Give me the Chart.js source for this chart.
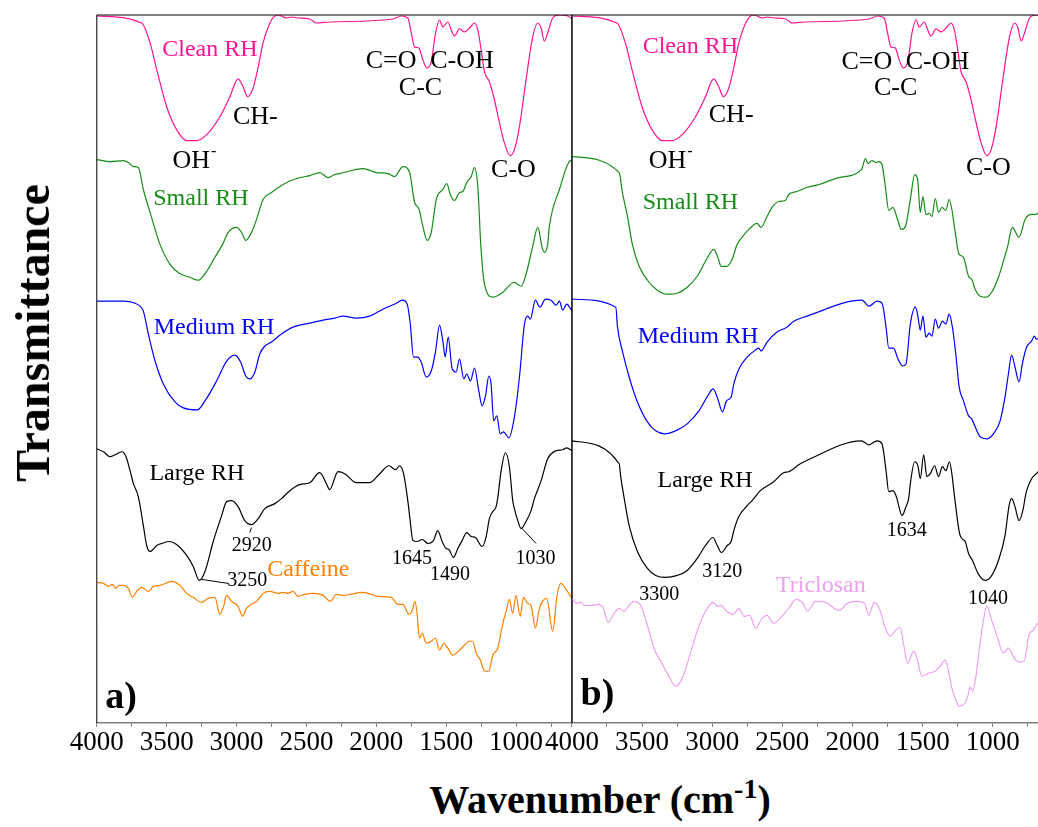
<!DOCTYPE html>
<html>
<head>
<meta charset="utf-8">
<script src="https://cdn.jsdelivr.net/npm/chart.js@4.4.0/dist/chart.umd.min.js"></script>
<style>
  body { margin: 0; background: #fff; }
  #wrap { position: relative; width: 1038px; height: 827px; overflow: hidden; background: #fff; }
  .panel { position: absolute; top: 0; height: 760px; }
  #pa { left: 0; width: 600px; }
  #pb { left: 540px; width: 505px; }
  #ytitle { position: absolute; left: 33px; top: 333px; transform: translate(-50%, -50%) rotate(-90deg);
            font: bold 48px "Liberation Serif", serif; white-space: nowrap; line-height: 1; }
  #xtitle { position: absolute; left: 600px; top: 800px; transform: translate(-50%, -50%);
            font: bold 40px "Liberation Serif", serif; white-space: nowrap; line-height: 1; }
  #xtitle sup { font-size: 28px; vertical-align: 0; position: relative; top: -15px; }
</style>
</head>
<body>
<div id="wrap">
  <div class="panel" id="pa"><canvas id="chartA"></canvas></div>
  <div class="panel" id="pb"><canvas id="chartB"></canvas></div>
  <div id="ytitle">Transmittance</div>
  <div id="xtitle">Wavenumber (cm<sup>-1</sup>)</div>
</div>
<script>
// FTIR spectra, x = wavenumber (cm-1), y = transmittance (a.u., curves offset)

// clean RH (same spectrum in both panels)
const cleanWn = [4000, 3679, 3619, 3571, 3500, 3429, 3357, 3286, 3214, 3119, 3048, 2989, 2953, 2921, 2881, 2845, 2810, 2750, 2703, 2643, 2607, 2560, 2476, 2429, 2334, 1881, 1821, 1774, 1750, 1726, 1696, 1667, 1639, 1607, 1576, 1548, 1524, 1489, 1464, 1441, 1405, 1369, 1333, 1298, 1274, 1250, 1226, 1191, 1155, 1119, 1084, 1043, 1012, 976, 929, 881, 845, 821, 798, 774, 738, 690, 631, 600];
const cleanT = [70.9, 70.2, 68.2, 65.5, 61.8, 59.5, 58.4, 58.4, 59.0, 60.8, 62.8, 64.6, 63.8, 62.8, 63.7, 65.8, 68.2, 70.5, 71.0, 70.7, 70.8, 70.7, 70.6, 70.2, 70.3, 70.6, 70.9, 70.7, 69.2, 67.8, 67.7, 66.5, 65.7, 66.3, 69.2, 70.5, 69.8, 70.3, 69.5, 68.9, 69.6, 69.3, 69.7, 70.2, 69.5, 67.5, 65.3, 64.3, 62.5, 60.2, 58.2, 56.9, 57.5, 59.8, 64.5, 68.8, 70.2, 69.7, 68.4, 69.2, 70.7, 71.0, 70.9, 70.6];

// panel a)
const smallAWn = [4000, 3905, 3810, 3774, 3738, 3703, 3667, 3619, 3548, 3476, 3410, 3334, 3274, 3214, 3155, 3100, 3060, 3000, 2964, 2934, 2893, 2857, 2810, 2750, 2667, 2571, 2476, 2405, 2346, 2298, 2262, 2095, 2000, 1917, 1869, 1810, 1762, 1726, 1696, 1667, 1636, 1607, 1571, 1524, 1496, 1471, 1441, 1405, 1381, 1353, 1321, 1298, 1274, 1252, 1226, 1167, 1095, 1012, 964, 929, 881, 845, 814, 798, 774, 762, 690, 619, 600];
const smallAT = [56.5, 56.3, 56.4, 56.2, 55.8, 55.7, 53.5, 51.2, 48.0, 46.0, 45.1, 44.7, 44.4, 45.3, 46.7, 48.0, 49.2, 49.7, 49.2, 48.4, 49.2, 50.5, 52.5, 53.2, 54.0, 54.6, 54.9, 55.2, 54.7, 55.0, 55.1, 55.6, 55.2, 55.1, 54.8, 55.8, 55.2, 52.2, 51.6, 49.8, 48.4, 49.2, 52.5, 53.5, 54.1, 53.0, 52.4, 53.2, 53.3, 54.2, 54.8, 55.7, 53.8, 47.8, 44.0, 42.7, 43.2, 44.2, 43.8, 45.0, 47.8, 49.7, 47.7, 47.2, 48.0, 49.8, 53.5, 56.3, 56.4];

const mediumAWn = [4000, 3905, 3810, 3726, 3691, 3667, 3631, 3583, 3524, 3441, 3381, 3281, 3226, 3143, 3071, 3012, 2971, 2934, 2905, 2869, 2834, 2798, 2750, 2679, 2596, 2476, 2381, 2298, 2238, 2143, 2048, 1953, 1857, 1814, 1779, 1757, 1734, 1703, 1679, 1643, 1607, 1576, 1548, 1524, 1507, 1486, 1457, 1429, 1405, 1374, 1353, 1326, 1298, 1267, 1243, 1219, 1195, 1179, 1160, 1138, 1114, 1090, 1052, 1012, 976, 940, 917, 898, 862, 829, 790, 750, 714, 690, 667, 638, 600];
const mediumAT = [42.3, 42.3, 42.3, 42.1, 41.8, 41.3, 39.0, 36.3, 34.0, 32.2, 31.6, 31.4, 32.3, 34.3, 36.3, 36.9, 36.2, 34.8, 34.5, 35.2, 37.0, 37.8, 38.2, 39.0, 39.7, 40.1, 40.4, 40.6, 40.8, 40.6, 40.8, 41.5, 42.1, 42.4, 42.0, 40.0, 36.7, 36.7, 36.2, 34.7, 35.3, 37.3, 39.9, 38.3, 36.7, 38.7, 35.5, 35.2, 36.5, 34.5, 35.0, 34.3, 35.6, 33.3, 31.8, 32.8, 34.8, 34.0, 30.3, 30.8, 29.0, 29.2, 28.6, 30.7, 34.7, 40.0, 40.8, 40.5, 42.4, 41.7, 42.5, 42.4, 41.9, 42.3, 41.4, 42.0, 41.3];

const largeAWn = [4000, 3952, 3905, 3869, 3821, 3791, 3762, 3738, 3703, 3667, 3643, 3619, 3571, 3536, 3481, 3429, 3357, 3310, 3267, 3226, 3167, 3107, 3071, 3036, 2989, 2941, 2893, 2845, 2798, 2726, 2679, 2619, 2548, 2476, 2405, 2357, 2334, 2274, 2226, 2143, 2048, 1976, 1910, 1862, 1834, 1805, 1774, 1762, 1738, 1710, 1671, 1631, 1591, 1560, 1529, 1500, 1481, 1448, 1417, 1386, 1353, 1321, 1291, 1243, 1214, 1191, 1167, 1143, 1131, 1107, 1076, 1048, 1024, 1012, 988, 964, 929, 893, 869, 821, 774, 714, 667, 638, 600];
const largeAT = [27.5, 27.2, 26.7, 26.9, 27.2, 26.7, 25.3, 24.0, 22.7, 19.8, 17.8, 17.2, 17.8, 18.0, 18.2, 17.9, 16.8, 15.7, 14.3, 15.2, 18.2, 20.8, 22.2, 22.3, 21.7, 20.3, 19.9, 20.5, 21.5, 22.0, 22.5, 23.3, 23.9, 24.1, 25.1, 24.0, 23.4, 25.2, 25.0, 24.1, 24.1, 25.0, 25.8, 25.4, 25.8, 25.0, 22.2, 20.8, 18.3, 18.2, 18.4, 18.0, 18.3, 19.3, 18.2, 17.5, 17.4, 16.6, 17.5, 18.3, 19.1, 18.7, 18.6, 17.7, 18.7, 20.5, 21.2, 21.7, 22.6, 25.3, 27.1, 25.7, 22.3, 21.5, 20.3, 19.5, 20.2, 21.3, 22.5, 24.3, 26.5, 27.3, 27.4, 27.6, 27.3];

const caffeineWn = [4000, 3952, 3917, 3886, 3869, 3838, 3810, 3774, 3745, 3714, 3679, 3631, 3595, 3548, 3464, 3405, 3357, 3310, 3250, 3203, 3155, 3119, 3091, 3071, 3036, 2989, 2957, 2929, 2893, 2857, 2810, 2762, 2703, 2667, 2631, 2596, 2560, 2512, 2453, 2381, 2329, 2286, 2238, 2191, 2095, 2036, 1988, 1893, 1845, 1810, 1767, 1743, 1724, 1710, 1691, 1671, 1643, 1607, 1576, 1548, 1517, 1488, 1453, 1405, 1369, 1338, 1310, 1286, 1255, 1226, 1195, 1167, 1131, 1095, 1071, 1048, 1024, 1000, 971, 948, 917, 893, 862, 833, 781, 738, 707, 679, 638, 600];
const caffeineT = [14.1, 14.0, 13.7, 13.9, 13.5, 13.8, 13.8, 13.5, 12.6, 13.2, 13.6, 13.2, 13.7, 13.8, 14.2, 13.8, 13.0, 12.6, 12.1, 12.5, 12.6, 10.9, 11.8, 12.8, 12.2, 11.7, 10.7, 11.5, 11.9, 12.2, 13.0, 13.2, 13.0, 13.1, 13.0, 13.2, 12.7, 12.9, 13.0, 12.8, 12.2, 12.9, 12.8, 12.9, 13.1, 12.9, 12.7, 12.6, 11.9, 11.9, 10.9, 11.3, 12.2, 11.2, 8.5, 9.0, 8.0, 8.2, 8.5, 7.3, 8.0, 7.5, 6.8, 7.3, 7.8, 8.2, 8.2, 7.0, 6.3, 5.2, 5.2, 6.8, 7.5, 10.0, 11.2, 12.4, 11.0, 12.8, 10.7, 12.6, 12.0, 11.8, 9.5, 11.5, 12.5, 9.2, 12.8, 14.0, 13.3, 12.5];

// panel b)
const smallBWn = [4000, 3663, 3640, 3604, 3569, 3521, 3450, 3391, 3320, 3249, 3178, 3107, 3048, 2988, 2960, 2936, 2893, 2858, 2822, 2799, 2739, 2680, 2652, 2609, 2574, 2526, 2479, 2455, 2396, 2325, 2239, 2097, 1936, 1908, 1889, 1861, 1832, 1813, 1790, 1766, 1742, 1712, 1683, 1652, 1623, 1588, 1557, 1536, 1517, 1498, 1477, 1453, 1434, 1410, 1387, 1363, 1335, 1311, 1292, 1268, 1250, 1240, 1209, 1173, 1150, 1126, 1090, 1048, 1008, 960, 925, 894, 861, 813, 770, 723, 695, 670];
const smallBT = [56.8, 55.2, 53.2, 50.8, 48.0, 45.8, 44.2, 43.4, 43.0, 43.1, 43.7, 44.8, 46.3, 47.5, 46.7, 45.8, 45.8, 46.5, 48.0, 48.5, 49.5, 50.1, 49.7, 50.8, 51.7, 52.3, 52.4, 53.0, 53.3, 53.7, 54.0, 54.7, 55.5, 56.6, 56.1, 56.4, 56.2, 56.3, 56.0, 53.8, 51.4, 51.7, 50.7, 49.5, 49.8, 52.5, 55.0, 54.5, 51.2, 52.8, 51.0, 51.1, 50.8, 52.6, 51.2, 51.7, 51.4, 52.5, 51.5, 49.2, 47.5, 47.0, 46.7, 44.8, 44.5, 43.5, 42.8, 42.7, 43.2, 44.7, 46.3, 47.8, 49.7, 48.7, 50.5, 51.0, 51.0, 51.2];

const mediumBWn = [4000, 3687, 3675, 3640, 3592, 3533, 3462, 3403, 3339, 3261, 3178, 3095, 3036, 2993, 2960, 2927, 2898, 2865, 2846, 2810, 2751, 2692, 2668, 2652, 2609, 2538, 2467, 2419, 2325, 1932, 1884, 1825, 1790, 1761, 1742, 1707, 1676, 1643, 1619, 1588, 1552, 1534, 1517, 1498, 1477, 1453, 1434, 1410, 1387, 1359, 1335, 1311, 1288, 1264, 1240, 1209, 1173, 1150, 1126, 1090, 1043, 996, 948, 913, 889, 866, 842, 813, 790, 759, 724, 704, 690, 670];
const mediumBT = [42.5, 41.7, 39.7, 37.3, 34.7, 32.2, 30.2, 29.3, 29.0, 29.3, 30.0, 31.3, 32.7, 33.5, 32.5, 31.2, 32.3, 32.7, 34.0, 35.5, 36.7, 37.4, 37.6, 37.3, 38.2, 39.2, 39.7, 40.3, 40.8, 42.4, 41.8, 42.3, 42.1, 39.7, 37.6, 37.6, 36.5, 35.8, 36.0, 40.0, 41.7, 40.8, 39.4, 40.8, 38.7, 39.1, 38.8, 40.5, 39.6, 40.3, 40.0, 41.0, 39.7, 37.0, 33.7, 32.3, 30.8, 30.5, 29.7, 28.7, 28.5, 29.0, 30.3, 32.7, 35.0, 36.9, 35.7, 34.2, 36.0, 37.7, 38.3, 38.8, 38.5, 38.6];

const largeBWn = [4000, 3663, 3652, 3628, 3592, 3533, 3462, 3403, 3332, 3249, 3178, 3107, 3048, 2995, 2964, 2934, 2893, 2865, 2846, 2810, 2751, 2716, 2657, 2562, 2491, 2455, 2372, 2330, 1936, 1884, 1825, 1790, 1761, 1742, 1712, 1683, 1671, 1647, 1619, 1600, 1588, 1557, 1534, 1517, 1493, 1470, 1446, 1415, 1387, 1359, 1335, 1309, 1292, 1273, 1233, 1197, 1173, 1145, 1102, 1055, 1012, 960, 913, 884, 866, 842, 813, 783, 771, 759, 724, 690, 670];
const largeBT = [28.3, 26.0, 24.7, 22.6, 19.8, 17.2, 15.5, 14.8, 14.6, 14.8, 15.3, 16.5, 17.8, 18.6, 17.8, 17.1, 17.8, 18.2, 19.3, 20.7, 21.8, 22.3, 23.3, 24.2, 25.1, 25.2, 26.0, 26.3, 28.3, 27.9, 28.3, 28.0, 25.3, 23.2, 23.3, 22.5, 21.8, 20.8, 21.7, 22.5, 24.0, 26.2, 25.8, 24.5, 26.9, 24.7, 25.0, 25.8, 24.7, 25.7, 25.3, 26.2, 25.0, 22.7, 18.8, 18.2, 17.0, 16.3, 14.9, 14.3, 14.7, 16.3, 18.8, 21.8, 22.5, 21.7, 20.3, 21.5, 22.5, 23.3, 24.5, 25.0, 25.3];

const triclosanWn = [4000, 3972, 3936, 3912, 3853, 3817, 3782, 3741, 3699, 3663, 3628, 3592, 3557, 3510, 3462, 3415, 3367, 3320, 3261, 3213, 3166, 3107, 3048, 2993, 2964, 2936, 2898, 2851, 2810, 2775, 2732, 2692, 2645, 2609, 2562, 2503, 2455, 2401, 2348, 2323, 2263, 2192, 2097, 2026, 1967, 1913, 1884, 1865, 1842, 1801, 1771, 1730, 1694, 1659, 1635, 1607, 1564, 1541, 1505, 1458, 1410, 1375, 1339, 1321, 1292, 1268, 1245, 1209, 1178, 1161, 1143, 1122, 1102, 1079, 1043, 1008, 965, 925, 889, 847, 818, 776, 743, 712, 690, 670];
const triclosanT = [12.5, 12.0, 12.1, 11.8, 11.8, 11.9, 11.7, 10.1, 11.0, 11.5, 11.2, 11.8, 12.2, 11.8, 9.8, 7.5, 6.2, 5.0, 3.7, 4.5, 6.5, 9.2, 11.2, 12.1, 11.7, 11.8, 11.2, 10.9, 11.5, 10.7, 10.8, 9.5, 10.5, 10.8, 10.0, 10.7, 11.5, 12.4, 11.9, 11.2, 12.2, 12.1, 11.3, 12.1, 12.2, 12.0, 10.8, 11.5, 12.1, 11.2, 9.7, 8.7, 9.3, 9.6, 7.8, 6.0, 7.2, 6.5, 4.7, 5.0, 5.2, 5.7, 6.3, 5.5, 3.5, 2.5, 1.7, 1.8, 2.7, 3.6, 3.2, 4.5, 6.8, 9.2, 11.7, 10.3, 8.5, 7.0, 7.5, 6.5, 6.1, 6.2, 8.8, 9.3, 9.8, 10.2];

// axis ticks (labels only on the 500s)
const tickValues = [4000, 3750, 3500, 3250, 3000, 2750, 2500, 2250, 2000, 1750, 1500, 1250, 1000, 750];
const xMinA = 600;
const xMinB = 678;

const PINK = '#ff1493', GREEN = '#168c16', BLUE = '#0000ff', BLACK = '#000000';
const ORANGE = '#ff8000', VIOLET = '#f0a0f2';
const SERIF = '"Liberation Serif", "Times New Roman", serif';

// text on the plot, placed in data coordinates
const notesA = [
  { text: 'Clean RH', wn: 3191, t: 67.5, color: PINK, size: 24 },
  { text: 'CH-', wn: 2866, t: 60.8, size: 26 },
  { text: 'OH', sup: '-', wn: 3305, t: 56.3, size: 26 },
  { text: 'Small RH', wn: 3255, t: 52.6, color: GREEN, size: 24 },
  { text: 'C=O', wn: 1894, t: 66.4, size: 26 },
  { text: 'C-OH', wn: 1387, t: 66.4, size: 26 },
  { text: 'C-C', wn: 1684, t: 63.7, size: 26 },
  { text: 'C-O', wn: 1019, t: 55.4, size: 26 },
  { text: 'Medium RH', wn: 3161, t: 39.6, color: BLUE, size: 24 },
  { text: 'Large RH', wn: 3284, t: 25.0, size: 24 },
  { text: '2920', wn: 2891, t: 17.8, size: 20 },
  { text: '3250', wn: 2923, t: 14.3, size: 20 },
  { text: 'Caffeine', wn: 2486, t: 15.4, color: ORANGE, size: 24 },
  { text: '1645', wn: 1744, t: 16.5, size: 20 },
  { text: '1490', wn: 1473, t: 14.9, size: 20 },
  { text: '1030', wn: 862, t: 16.5, size: 20 },
  { text: 'a)', wn: 3940, t: 2.5, size: 38, bold: true, align: 'left' }
];
const leadersA = [
  { from: [2893, 19.6], to: [2905, 19.1] },
  { from: [3250, 14.4], to: [3060, 14.0] },
  { from: [964, 19.6], to: [857, 18.0] }
];
const notesB = [
  { text: 'Clean RH', wn: 3156, t: 67.8, color: PINK, size: 24 },
  { text: 'CH-', wn: 2865, t: 61.0, size: 26 },
  { text: 'OH', sup: '-', wn: 3299, t: 56.3, size: 26 },
  { text: 'Small RH', wn: 3156, t: 52.2, color: GREEN, size: 24 },
  { text: 'C=O', wn: 1898, t: 66.3, size: 26 },
  { text: 'C-OH', wn: 1394, t: 66.3, size: 26 },
  { text: 'C-C', wn: 1693, t: 63.7, size: 26 },
  { text: 'C-O', wn: 1032, t: 55.6, size: 26 },
  { text: 'Medium RH', wn: 3101, t: 38.7, color: BLUE, size: 24 },
  { text: 'Large RH', wn: 3051, t: 24.3, size: 24 },
  { text: '3300', wn: 3377, t: 12.9, size: 20 },
  { text: '3120', wn: 2929, t: 15.2, size: 20 },
  { text: 'Triclosan', wn: 2226, t: 13.8, color: VIOLET, size: 24 },
  { text: '1634', wn: 1614, t: 19.3, size: 20 },
  { text: '1040', wn: 1035, t: 12.5, size: 20 },
  { text: 'b)', wn: 3938, t: 2.8, size: 38, bold: true, align: 'left' }
];

function spectrum(label, wn, t, color) {
  return {
    label: label,
    data: wn.map((w, i) => ({ x: w, y: t[i] })),
    borderColor: color,
    borderWidth: 1.2,
    pointRadius: 0,
    fill: false,
    cubicInterpolationMode: 'monotone'
  };
}

// frame lines + labels drawn through the chart scales
const notesPlugin = {
  id: 'notes',
  afterDatasetsDraw(chart, args, opts) {
    const { ctx, chartArea: a } = chart;
    const x = chart.scales.x, y = chart.scales.y;
    ctx.save();
    ctx.strokeStyle = '#000';
    ctx.lineWidth = 1;
    ctx.beginPath();
    ctx.moveTo(a.left, a.bottom);
    ctx.lineTo(a.left, a.top);
    ctx.lineTo(a.right, a.top);
    if (opts.rightEdge) ctx.lineTo(a.right, a.bottom);
    ctx.stroke();

    (opts.leaders || []).forEach(l => {
      ctx.beginPath();
      ctx.moveTo(x.getPixelForValue(l.from[0]), y.getPixelForValue(l.from[1]));
      ctx.lineTo(x.getPixelForValue(l.to[0]), y.getPixelForValue(l.to[1]));
      ctx.stroke();
    });

    ctx.textBaseline = 'middle';
    (opts.labels || []).forEach(n => {
      const px = x.getPixelForValue(n.wn);
      const py = y.getPixelForValue(n.t);
      ctx.fillStyle = n.color || '#000';
      ctx.font = (n.bold ? 'bold ' : '') + n.size + 'px ' + SERIF;
      const w1 = ctx.measureText(n.text).width;
      let w2 = 0;
      if (n.sup) {
        ctx.font = Math.round(n.size * 0.6) + 'px ' + SERIF;
        w2 = ctx.measureText(n.sup).width;
        ctx.font = (n.bold ? 'bold ' : '') + n.size + 'px ' + SERIF;
      }
      const left = n.align === 'left' ? px : px - (w1 + w2) / 2;
      ctx.textAlign = 'left';
      ctx.fillText(n.text, left, py);
      if (n.sup) {
        ctx.font = Math.round(n.size * 0.6) + 'px ' + SERIF;
        ctx.fillText(n.sup, left + w1 + 1, py - n.size * 0.38);
      }
    });
    ctx.restore();
  }
};

function xAxis(min) {
  return {
    type: 'linear',
    reverse: true,
    min: min,
    max: 4000,
    afterBuildTicks: s => { s.ticks = tickValues.map(v => ({ value: v })); },
    ticks: {
      autoSkip: false,
      maxRotation: 0,
      padding: 2,
      color: '#000',
      font: { family: SERIF, size: 27, lineHeight: 1 },
      callback: v => (v % 500 === 0 ? String(v) : '')
    },
    grid: { drawOnChartArea: false, drawTicks: true, tickLength: 4, tickColor: '#808080', tickWidth: 1 },
    border: { display: true, color: '#808080', width: 1.5 }
  };
}

function makeChart(id, datasets, min, padding, plugOpts) {
  return new Chart(document.getElementById(id), {
    type: 'line',
    data: { datasets: datasets },
    options: {
      responsive: true,
      maintainAspectRatio: false,
      animation: false,
      events: [],
      layout: { padding: padding },
      scales: {
        x: xAxis(min),
        y: { display: false, min: 0, max: 71 }
      },
      plugins: {
        legend: { display: false },
        tooltip: { enabled: false },
        notes: plugOpts
      }
    },
    plugins: [notesPlugin]
  });
}

makeChart('chartA', [
  spectrum('Clean RH', cleanWn, cleanT, PINK),
  spectrum('Small RH', smallAWn, smallAT, GREEN),
  spectrum('Medium RH', mediumAWn, mediumAT, BLUE),
  spectrum('Large RH', largeAWn, largeAT, BLACK),
  spectrum('Caffeine', caffeineWn, caffeineT, ORANGE)
], xMinA, { left: 96.8, right: 28, top: 15, bottom: 2 },
  { labels: notesA, leaders: leadersA, rightEdge: true });

makeChart('chartB', [
  spectrum('Clean RH', cleanWn, cleanT, PINK),
  spectrum('Small RH', smallBWn, smallBT, GREEN),
  spectrum('Medium RH', mediumBWn, mediumBT, BLUE),
  spectrum('Large RH', largeBWn, largeBT, BLACK),
  spectrum('Triclosan', triclosanWn, triclosanT, VIOLET)
], xMinB, { left: 31.9, right: 7, top: 15, bottom: 2 },
  { labels: notesB, leaders: [], rightEdge: false });
</script>
</body>
</html>
